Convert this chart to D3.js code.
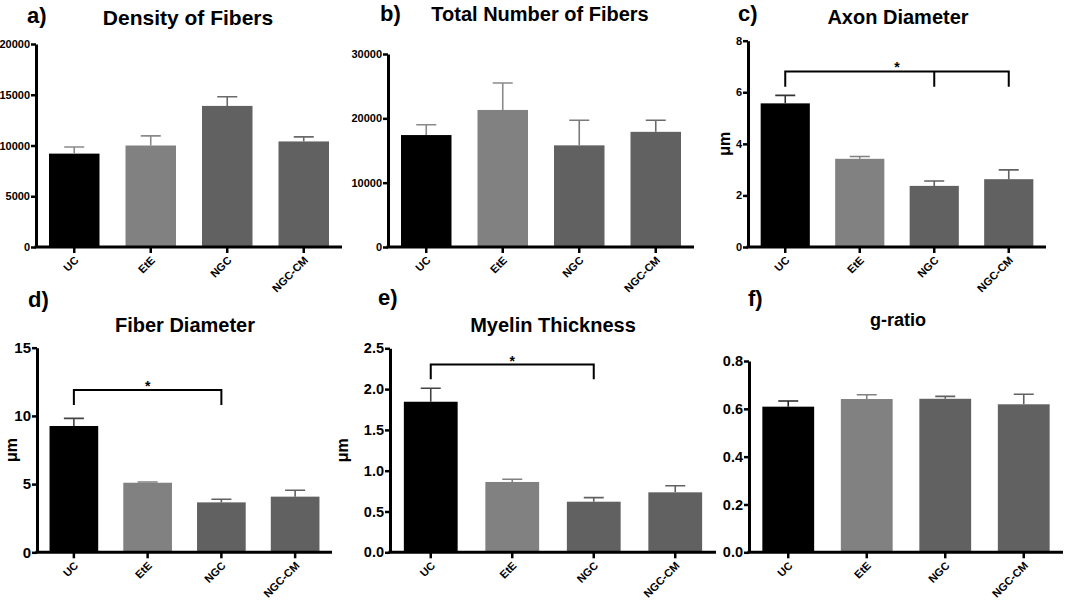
<!DOCTYPE html>
<html>
<head>
<meta charset="utf-8">
<script src="https://cdn.jsdelivr.net/npm/d3@7"></script>
<style>
  body { margin: 0; background: #fff; }
  svg { font-family: "Liberation Sans", Arial, sans-serif; }
</style>
</head>
<body>
<svg id="chart" width="1065" height="600"></svg>
<script>
// groups and colours
var groups = ["UC", "EtE", "NGC", "NGC-CM"];
var barColors = ["#000000", "#818181", "#616161", "#616161"];

// a) density of fibers
var densityMean = [9200, 10000, 13900, 10400];
var densityErr = [650, 950, 900, 450];
var densityTicks = [0, 5000, 10000, 15000, 20000];

// b) total number of fibers
var totalMean = [17400, 21300, 15800, 17900];
var totalErr = [1600, 4200, 3900, 1800];
var totalTicks = [0, 10000, 20000, 30000];

// c) axon diameter
var axonMean = [5.57, 3.42, 2.37, 2.63];
var axonErr = [0.31, 0.09, 0.19, 0.36];
var axonTicks = [0, 2, 4, 6, 8];
var axonSig = ["UC", "NGC", "NGC-CM"];
var axonSigLevel = [6.81, 6.21];

// d) fiber diameter
var fiberMean = [9.26, 5.10, 3.66, 4.08];
var fiberErr = [0.56, 0.05, 0.23, 0.47];
var fiberTicks = [0, 5, 10, 15];
var fiberSig = ["UC", "NGC"];
var fiberSigLevel = [11.9, 10.8];

// e) myelin thickness
var myelinMean = [1.845, 0.862, 0.62, 0.735];
var myelinErr = [0.165, 0.033, 0.05, 0.081];
var myelinTicks = [0, 0.5, 1.0, 1.5, 2.0, 2.5];
var myelinSig = ["UC", "NGC"];
var myelinSigLevel = [2.30, 2.12];

// f) g-ratio
var gratioMean = [0.609, 0.641, 0.642, 0.619];
var gratioErr = [0.024, 0.018, 0.010, 0.042];
var gratioTicks = [0, 0.2, 0.4, 0.6, 0.8];

var svg = d3.select("#chart");
svg.append("rect").attr("width", 1065).attr("height", 600).attr("fill", "#fff");

var panels = [
  {letter: "a)", title: "Density of Fibers", mean: densityMean, err: densityErr, ticks: densityTicks,
   fmt: d3.format("d"), x0: 36, x1: 342, yTop: 44, y0: 247, tickFont: 11,
   titleX: 188, titleY: 25, titleSize: 21, letterX: 27, letterY: 23,
   errColors: ["#8a8a8a", "#8a8a8a", "#6a6a6a", "#6a6a6a"]},
  {letter: "b)", title: "Total Number of Fibers", mean: totalMean, err: totalErr, ticks: totalTicks,
   fmt: d3.format("d"), x0: 388, x1: 694, yTop: 54, y0: 247, tickFont: 11,
   titleX: 540, titleY: 21, titleSize: 20, letterX: 380, letterY: 21,
   errColors: ["#8a8a8a", "#8a8a8a", "#7a7a7a", "#6a6a6a"]},
  {letter: "c)", title: "Axon Diameter", mean: axonMean, err: axonErr, ticks: axonTicks,
   fmt: d3.format("d"), x0: 748, x1: 1046, yTop: 40.7, y0: 247, tickFont: 11,
   titleX: 898, titleY: 24, titleSize: 20, letterX: 738, letterY: 21,
   unit: "μm", unitX: 724, sig: axonSig, sigLevel: axonSigLevel,
   errColors: ["#333333", "#818181", "#616161", "#616161"]},
  {letter: "d)", title: "Fiber Diameter", mean: fiberMean, err: fiberErr, ticks: fiberTicks,
   fmt: d3.format("d"), x0: 37, x1: 332, yTop: 347.7, y0: 552.3, tickFont: 15,
   titleX: 185, titleY: 332, titleSize: 20, letterX: 28, letterY: 307,
   unit: "μm", unitX: 11, sig: fiberSig, sigLevel: fiberSigLevel,
   errColors: ["#444444", "#818181", "#616161", "#616161"]},
  {letter: "e)", title: "Myelin Thickness", mean: myelinMean, err: myelinErr, ticks: myelinTicks,
   fmt: d3.format(".1f"), x0: 390, x1: 716, yTop: 348.3, y0: 552.3, tickFont: 14.5,
   titleX: 553, titleY: 332, titleSize: 20, letterX: 378, letterY: 305,
   unit: "μm", unitX: 342, sig: myelinSig, sigLevel: myelinSigLevel,
   errColors: ["#444444", "#818181", "#616161", "#616161"]},
  {letter: "f)", title: "g-ratio", mean: gratioMean, err: gratioErr, ticks: gratioTicks,
   fmt: d3.format(".1f"), x0: 749, x1: 1063, yTop: 361, y0: 552.3, tickFont: 14.5,
   titleX: 898, titleY: 326, titleSize: 18, letterX: 748, letterY: 306,
   errColors: ["#222222", "#818181", "#616161", "#616161"]}
];

panels.forEach(drawPanel);

function drawPanel(p) {
  var g = svg.append("g");

  var x = d3.scaleBand()
      .domain(groups)
      .range([p.x0, p.x1])
      .paddingInner(0.34)
      .paddingOuter(0.17);

  var y = d3.scaleLinear()
      .domain([0, p.ticks[p.ticks.length - 1]])
      .range([p.y0, p.yTop]);

  function cx(name) { return x(name) + x.bandwidth() / 2; }

  // bars
  g.selectAll(".bar")
      .data(p.mean)
      .enter()
      .append("rect")
      .attr("class", "bar")
      .attr("x", function(d, i) { return x(groups[i]); })
      .attr("y", function(d) { return y(d); })
      .attr("width", x.bandwidth())
      .attr("height", function(d) { return p.y0 - y(d); })
      .attr("fill", function(d, i) { return barColors[i]; });

  // upper error bars
  var cap = 10;
  g.selectAll(".err")
      .data(p.mean)
      .enter()
      .append("path")
      .attr("class", "err")
      .attr("d", function(d, i) {
        var c = cx(groups[i]), yt = y(d + p.err[i]), yb = y(d);
        return "M" + c + "," + yb + "V" + yt + "M" + (c - cap) + "," + yt + "H" + (c + cap);
      })
      .attr("fill", "none")
      .attr("stroke", function(d, i) { return p.errColors[i]; })
      .attr("stroke-width", 1.6);

  // y axis
  var ya = g.append("g")
      .attr("transform", "translate(" + p.x0 + ",0)")
      .call(d3.axisLeft(y)
          .tickValues(p.ticks)
          .tickFormat(p.fmt)
          .tickSize(5)
          .tickSizeOuter(0)
          .tickPadding(1));

  // x axis
  var xa = g.append("g")
      .attr("transform", "translate(0," + p.y0 + ")")
      .call(d3.axisBottom(x).tickSize(6).tickSizeOuter(0));

  [ya, xa].forEach(function(a) {
    a.select(".domain").attr("stroke", "#000").attr("stroke-width", 3);
    a.selectAll(".tick line").attr("stroke", "#000").attr("stroke-width", 2.5);
  });
  xa.select(".domain").attr("d", "M" + (p.x0 - 1.5) + ",0H" + p.x1);

  ya.selectAll(".tick text")
      .attr("fill", "#000")
      .style("font-family", "'Liberation Sans', Arial, sans-serif")
      .style("font-weight", "bold")
      .style("font-size", p.tickFont + "px");

  xa.selectAll(".tick text")
      .attr("fill", "#000")
      .attr("x", 0)
      .attr("y", 0)
      .attr("dy", 0)
      .attr("transform", "translate(5,14) rotate(-45)")
      .style("text-anchor", "end")
      .style("font-family", "'Liberation Sans', Arial, sans-serif")
      .style("font-weight", "bold")
      .style("font-size", "11px");

  // title and panel letter
  g.append("text")
      .attr("x", p.titleX)
      .attr("y", p.titleY)
      .attr("text-anchor", "middle")
      .style("font-weight", "bold")
      .style("font-size", p.titleSize + "px")
      .text(p.title);

  g.append("text")
      .attr("x", p.letterX)
      .attr("y", p.letterY)
      .style("font-weight", "bold")
      .style("font-size", "22px")
      .text(p.letter);

  // unit label
  if (p.unit) {
    g.append("text")
        .attr("transform", "translate(" + p.unitX + "," + ((p.y0 + p.yTop) / 2) + ") rotate(-90)")
        .attr("text-anchor", "middle")
        .attr("dy", "0.35em")
        .style("font-weight", "bold")
        .style("font-size", "16px")
        .text(p.unit);
  }

  // significance bracket
  if (p.sig) {
    var first = p.sig[0], last = p.sig[p.sig.length - 1];
    var top = y(p.sigLevel[0]), bottom = y(p.sigLevel[1]);
    var d = "M" + cx(first) + "," + bottom + "V" + top + "H" + cx(last) + "V" + bottom;
    p.sig.slice(1, -1).forEach(function(name) {
      d += "M" + cx(name) + "," + top + "V" + bottom;
    });
    g.append("path")
        .attr("d", d)
        .attr("fill", "none")
        .attr("stroke", "#000")
        .attr("stroke-width", 2);

    g.append("text")
        .attr("x", (cx(first) + cx(last)) / 2)
        .attr("y", top + 1)
        .attr("text-anchor", "middle")
        .style("font-weight", "bold")
        .style("font-size", "14px")
        .text("*");
  }
}
</script>
</body>
</html>
